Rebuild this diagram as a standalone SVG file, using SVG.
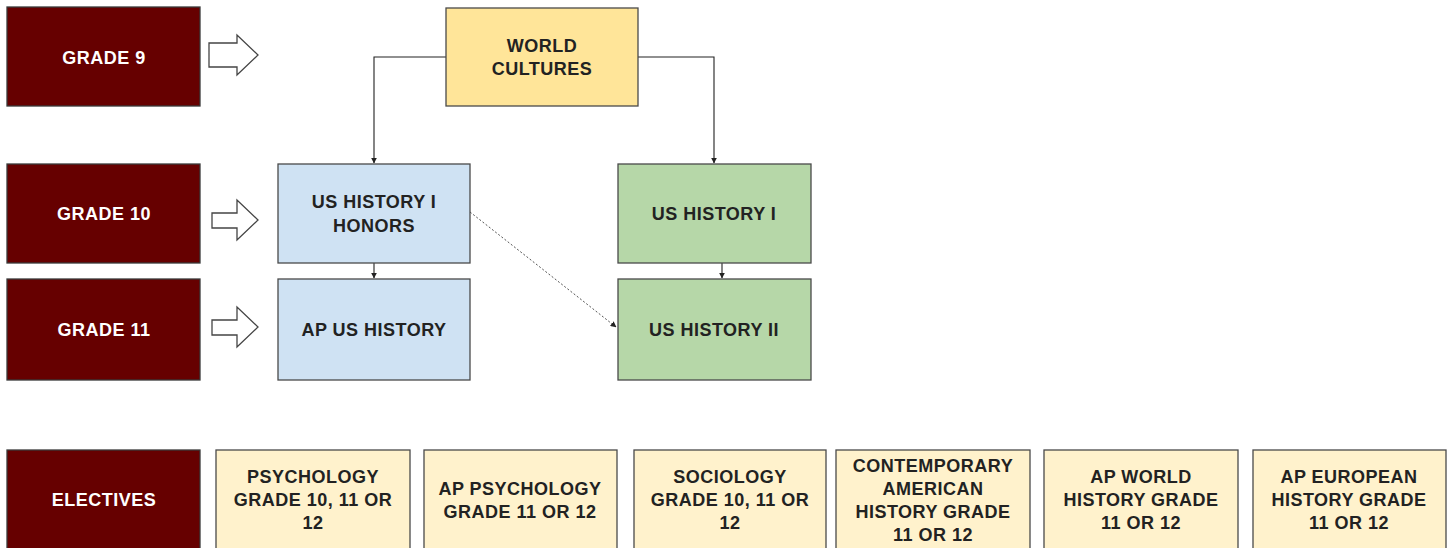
<svg xmlns="http://www.w3.org/2000/svg" width="1454" height="548" viewBox="0 0 1454 548">
<style>
.grade{fill:#660000;stroke:#3a3a3a;stroke-width:1.3}
.wc{fill:#ffe599;stroke:#4a4a4a;stroke-width:1.3}
.blue{fill:#cfe2f3;stroke:#4a4a4a;stroke-width:1.3}
.green{fill:#b6d7a8;stroke:#4a4a4a;stroke-width:1.3}
.elec{fill:#fff2cc;stroke:#4a4a4a;stroke-width:1.3}
text{font-family:"Liberation Sans",Arial,sans-serif;font-weight:bold;font-size:18px;letter-spacing:0.5px;text-anchor:middle}
.w{fill:#ffffff}
.d{fill:#222222}
.hollow{fill:#ffffff;stroke:#444444;stroke-width:1.3}
.conn{fill:none;stroke:#222222;stroke-width:1.1}
.dot{fill:none;stroke:#555555;stroke-width:1;stroke-dasharray:2 2}
</style>
<defs>
<marker id="ah" viewBox="0 0 10 10" refX="9" refY="5" markerWidth="6" markerHeight="6" markerUnits="userSpaceOnUse" orient="auto">
<path d="M0,0 L10,5 L0,10 z" fill="#222222"/>
</marker>
</defs>
<rect width="1454" height="548" fill="#ffffff"/>
<g id="connectors">
<path class="conn" d="M446,57 H374 V163" marker-end="url(#ah)"/>
<path class="conn" d="M638,57 H714 V163" marker-end="url(#ah)"/>
<path class="conn" d="M374,263 V278" marker-end="url(#ah)"/>
<path class="conn" d="M722,263 V278" marker-end="url(#ah)"/>
<path class="dot" d="M470,212 L616,327" marker-end="url(#ah)"/>
</g>
<g id="arrow9"><path class="hollow" d="M209,43 H237 V35 L258,55 L237,75 V67 H209 Z"/></g>
<g id="arrow10"><path class="hollow" d="M212,213 H237 V200 L258,220 L237,240 V228 H212 Z"/></g>
<g id="arrow11"><path class="hollow" d="M212,320 H237 V307 L258,327 L237,347 V335 H212 Z"/></g>
<g id="grade9"><rect class="grade" x="7" y="7" width="193" height="99"/><text class="w" x="104" y="64">GRADE 9</text></g>
<g id="grade10"><rect class="grade" x="7" y="164" width="193" height="99"/><text class="w" x="104" y="220">GRADE 10</text></g>
<g id="grade11"><rect class="grade" x="7" y="279" width="193" height="101"/><text class="w" x="104" y="336">GRADE 11</text></g>
<g id="electives"><rect class="grade" x="7" y="450" width="193" height="100"/><text class="w" x="104" y="506">ELECTIVES</text></g>
<g id="worldcultures"><rect class="wc" x="446" y="8" width="192" height="98"/><text class="d" x="542" y="52">WORLD</text><text class="d" x="542" y="75">CULTURES</text></g>
<g id="ushistoryihonors"><rect class="blue" x="278" y="164" width="192" height="99"/><text class="d" x="374" y="208">US HISTORY I</text><text class="d" x="374" y="232">HONORS</text></g>
<g id="apushistory"><rect class="blue" x="278" y="279" width="192" height="101"/><text class="d" x="374" y="336">AP US HISTORY</text></g>
<g id="ushistoryi"><rect class="green" x="618" y="164" width="193" height="99"/><text class="d" x="714" y="220">US HISTORY I</text></g>
<g id="ushistoryii"><rect class="green" x="618" y="279" width="193" height="101"/><text class="d" x="714" y="336">US HISTORY II</text></g>
<g id="psychology"><rect class="elec" x="216" y="450" width="194" height="100"/><text class="d" x="313" y="483">PSYCHOLOGY</text><text class="d" x="313" y="506">GRADE 10, 11 OR</text><text class="d" x="313" y="529">12</text></g>
<g id="appsychology"><rect class="elec" x="424" y="450" width="193" height="100"/><text class="d" x="520" y="495">AP PSYCHOLOGY</text><text class="d" x="520" y="518">GRADE 11 OR 12</text></g>
<g id="sociology"><rect class="elec" x="634" y="450" width="192" height="100"/><text class="d" x="730" y="483">SOCIOLOGY</text><text class="d" x="730" y="506">GRADE 10, 11 OR</text><text class="d" x="730" y="529">12</text></g>
<g id="contemporary"><rect class="elec" x="836" y="450" width="194" height="100"/><text class="d" x="933" y="472">CONTEMPORARY</text><text class="d" x="933" y="495">AMERICAN</text><text class="d" x="933" y="518">HISTORY GRADE</text><text class="d" x="933" y="541">11 OR 12</text></g>
<g id="apworld"><rect class="elec" x="1044" y="450" width="194" height="100"/><text class="d" x="1141" y="483">AP WORLD</text><text class="d" x="1141" y="506">HISTORY GRADE</text><text class="d" x="1141" y="529">11 OR 12</text></g>
<g id="apeuropean"><rect class="elec" x="1253" y="450" width="193" height="100"/><text class="d" x="1349" y="483">AP EUROPEAN</text><text class="d" x="1349" y="506">HISTORY GRADE</text><text class="d" x="1349" y="529">11 OR 12</text></g>
</svg>
